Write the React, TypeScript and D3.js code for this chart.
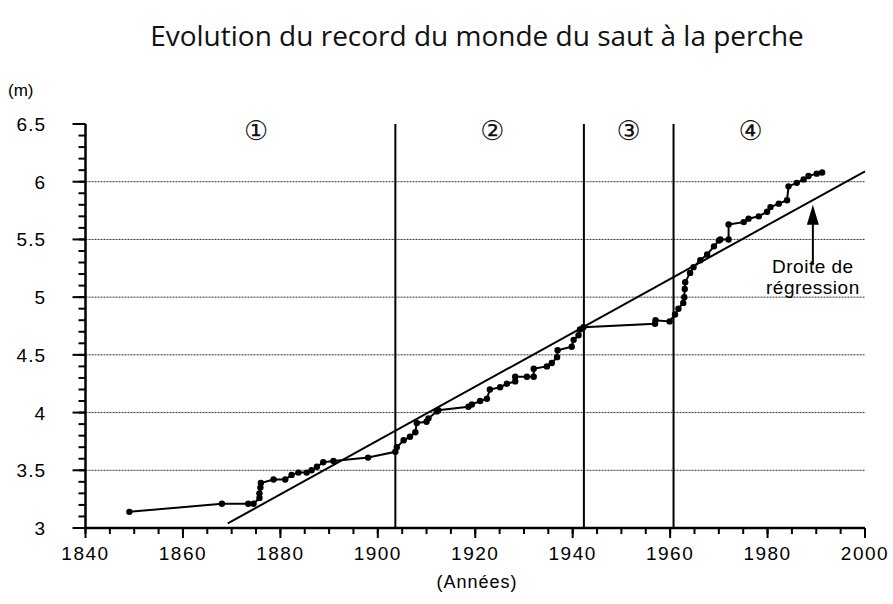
import React from 'react';
import * as d3 from 'd3';

// Record du monde (année, hauteur en m)
const recordYears = [
  1849, 1868, 1873.4, 1874.5, 1875.7, 1875.7, 1875.9, 1876, 1878.6, 1881, 1882.3, 1883.7, 1885.4,
  1886.4, 1887.5, 1888.8, 1890.9, 1898, 1903.6, 1903.9, 1905.3, 1906.6, 1907.7, 1908, 1910,
  1910.4, 1912.1, 1912.4, 1918.6, 1919.3, 1921, 1922.4, 1923, 1925.1, 1926.5, 1928.2, 1928.2,
  1930.6, 1932, 1932, 1934.7, 1935.7, 1936.8, 1936.9, 1939.8, 1940.2, 1941.2, 1941.5, 1942.2,
  1956.9, 1957, 1959.9, 1961, 1961.7, 1962.7, 1962.9, 1963, 1963.1, 1964.1, 1964.8, 1966.2,
  1967.6, 1969, 1970, 1970.3, 1972, 1972, 1975.1, 1976.1, 1978.2, 1979.9, 1980.6, 1982.3,
  1984, 1984.3, 1986, 1987.4, 1988.4, 1990.1, 1991.2,
];
const recordHeights = [
  3.14, 3.21, 3.21, 3.21, 3.26, 3.3, 3.35, 3.39, 3.42, 3.42, 3.46, 3.48, 3.48,
  3.5, 3.53, 3.57, 3.58, 3.61, 3.66, 3.7, 3.76, 3.79, 3.83, 3.91, 3.92,
  3.95, 4.01, 4.02, 4.05, 4.07, 4.1, 4.12, 4.2, 4.22, 4.25, 4.27, 4.31,
  4.31, 4.31, 4.38, 4.4, 4.43, 4.48, 4.54, 4.57, 4.63, 4.67, 4.72, 4.74,
  4.77, 4.8, 4.79, 4.85, 4.9, 4.95, 5.0, 5.07, 5.13, 5.21, 5.26, 5.32,
  5.37, 5.44, 5.49, 5.5, 5.5, 5.63, 5.65, 5.68, 5.7, 5.74, 5.78, 5.81,
  5.84, 5.96, 5.99, 6.02, 6.05, 6.07, 6.08,
];

// Droite de régression (extrémités)
const regressionYears = [1869.2, 2000];
const regressionHeights = [3.04, 6.09];

// Séparations des périodes
const periodBreaks = [1903.6, 1942.3, 1960.7];
const periodLabels = ['①', '②', '③', '④'];
const periodLabelYears = [1875, 1923.5, 1951.5, 1976.5];

const yTickLabels = ['3', '3.5', '4', '4.5', '5', '5.5', '6', '6.5'];
const yTickValues = [3, 3.5, 4, 4.5, 5, 5.5, 6, 6.5];
const xTickValues = [1840, 1860, 1880, 1900, 1920, 1940, 1960, 1980, 2000];

const W = 893;
const H = 604;
const font = 'Liberation Sans, Arial, sans-serif';

export default function App() {
  const x = d3.scaleLinear().domain([1840, 2000]).range([85.5, 865]);
  const y = d3.scaleLinear().domain([3, 6.5]).range([528, 124]);

  const minorY = d3.range(30, 66).map((v) => v / 10);
  const minorX = d3.range(1840, 2001, 5);

  const recPts: [number, number][] = recordYears.map((yr, i) => [x(yr), y(recordHeights[i])]);
  const line = d3.line();
  const regPts: [number, number][] = regressionYears.map((yr, i) => [x(yr), y(regressionHeights[i])]);

  const arrowX = x(1989.3);
  const arrowTip = y(5.8);
  const arrowBase = y(5.28);

  return (
    <svg width={W} height={H} style={{ position: 'absolute', left: 0, top: 0, background: '#fff' }}>
      <text x={477} y={46} textAnchor="middle" fontFamily="Open Sans, sans-serif" fontSize={28} fill="#111">
        Evolution du record du monde du saut à la perche
      </text>

      {/* grille horizontale */}
      {yTickValues.filter((v) => v > 3 && v < 6.5).map((v) => (
        <line key={v} x1={x(1840)} x2={x(2000)} y1={y(v)} y2={y(v)}
          stroke="#333" strokeWidth={1} strokeDasharray="2,1" />
      ))}

      {/* séparations des périodes */}
      {periodBreaks.map((yr) => (
        <line key={yr} x1={x(yr)} x2={x(yr)} y1={y(6.5)} y2={y(3)} stroke="#000" strokeWidth={2} />
      ))}
      {periodLabels.map((lab, i) => (
        <text key={lab} x={x(periodLabelYears[i])} y={140} textAnchor="middle"
          fontFamily="DejaVu Sans, sans-serif" fontSize={27} fill="#111">{lab}</text>
      ))}

      {/* axe Y */}
      <line x1={x(1840)} x2={x(1840)} y1={y(6.5)} y2={y(3)} stroke="#000" strokeWidth={2.5} />
      {minorY.map((v) => (
        <line key={v} x1={x(1840) - 7} x2={x(1840)} y1={y(v)} y2={y(v)} stroke="#000" strokeWidth={2} />
      ))}
      {yTickValues.map((v, i) => (
        <g key={v}>
          <line x1={x(1840) - 13} x2={x(1840)} y1={y(v)} y2={y(v)} stroke="#000" strokeWidth={2} />
          <text x={46} y={y(v) + 7} textAnchor="end" fontFamily={font} fontSize={19}
            letterSpacing={1} fill="#000">
            {yTickLabels[i]}
          </text>
        </g>
      ))}
      <text x={8} y={96} fontFamily={font} fontSize={17} fill="#000">(m)</text>

      {/* axe X */}
      <line x1={x(1840) - 1} x2={x(2000)} y1={y(3)} y2={y(3)} stroke="#000" strokeWidth={2.5} />
      {minorX.map((yr) => (
        <line key={yr} x1={x(yr)} x2={x(yr)} y1={y(3)} y2={y(3) + 6} stroke="#000" strokeWidth={2} />
      ))}
      {xTickValues.map((yr) => (
        <g key={yr}>
          <line x1={x(yr)} x2={x(yr)} y1={y(3)} y2={y(3) + 10} stroke="#000" strokeWidth={2} />
          <text x={x(yr)} y={560} textAnchor="middle" fontFamily={font} fontSize={19}
            letterSpacing={1.5} fill="#000">{yr}</text>
        </g>
      ))}
      <text x={477} y={588} textAnchor="middle" fontFamily={font} fontSize={18}
        letterSpacing={1} fill="#000">(Années)</text>

      {/* droite de régression */}
      <path d={line(regPts) || ''} fill="none" stroke="#000" strokeWidth={2} />

      {/* record du monde */}
      <path d={line(recPts) || ''} fill="none" stroke="#000" strokeWidth={2} />
      {recPts.map(([px, py], i) => (
        <circle key={i} cx={px} cy={py} r={3.2} fill="#000" />
      ))}

      {/* flèche et légende */}
      <line x1={arrowX} x2={arrowX} y1={arrowBase} y2={arrowTip + 16} stroke="#000" strokeWidth={2} />
      <path d={`M${arrowX},${arrowTip} L${arrowX - 6},${arrowTip + 20} L${arrowX + 6},${arrowTip + 20} Z`} fill="#000" />
      <text x={arrowX} y={273} textAnchor="middle" fontFamily={font} fontSize={19}
        letterSpacing={0.5} fill="#000">Droite de</text>
      <text x={arrowX} y={294} textAnchor="middle" fontFamily={font} fontSize={19}
        letterSpacing={0.5} fill="#000">régression</text>
    </svg>
  );
}
